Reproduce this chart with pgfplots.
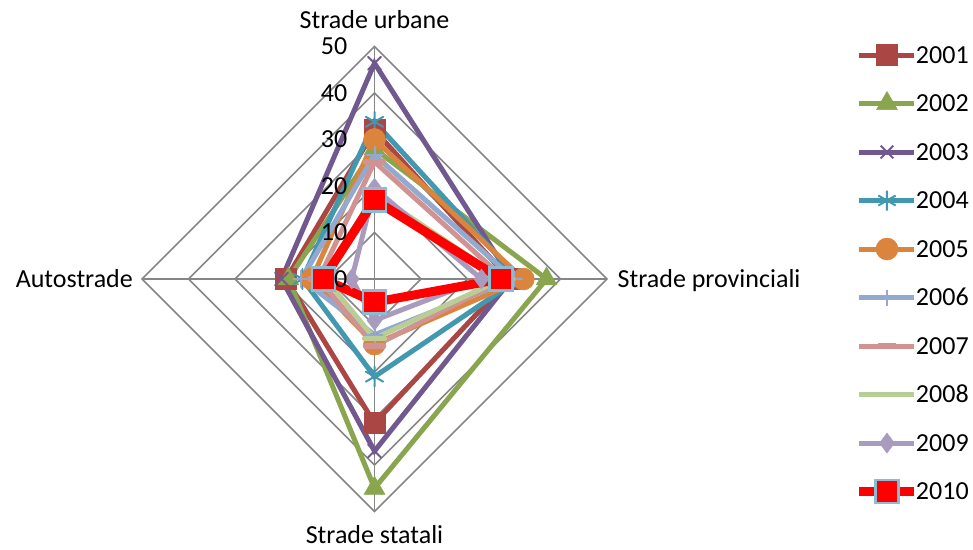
\documentclass[border=0pt]{standalone}
\usepackage{fontspec}
\setmainfont{Carlito}
\usepackage{pgfplots}
\pgfplotsset{compat=1.18}
\definecolor{gridc}{HTML}{868686}
\definecolor{c1}{HTML}{AA4643}
\definecolor{c2}{HTML}{89A54E}
\definecolor{c3}{HTML}{71588F}
\definecolor{c4}{HTML}{4198AF}
\definecolor{c5}{HTML}{DB843D}
\definecolor{c6}{HTML}{93A9CF}
\definecolor{c7}{HTML}{D19392}
\definecolor{c8}{HTML}{B9CD96}
\definecolor{c9}{HTML}{A99BBD}
\definecolor{c10}{HTML}{FF0000}
\definecolor{c10b}{HTML}{8CBCD4}
\begin{document}
\fontsize{26}{31}\selectfont
\begin{tikzpicture}
\useasboundingbox (0,0) rectangle (973pt,549pt);
\begin{axis}[
  at={(374.5pt,270pt)}, anchor=center,
  x=4.65pt, y=4.65pt,
  xmin=-50, xmax=50, ymin=-50, ymax=50,
  hide axis, clip=false,
  line cap=round,
  legend style={draw=none, fill=none, inner sep=0pt, outer sep=0pt,
    at={(axis description cs:1.5333,1.0204)}, anchor=north west,
    font=\fontsize{26}{31}\selectfont,
    nodes={inner sep=0pt, outer sep=0pt, text height=26pt, text depth=10pt},
    row sep=12.5pt, column sep=-3pt},
  legend cell align=left,
  legend image code/.code={\draw[mark repeat=2,mark phase=2,#1] plot coordinates {(0pt,0pt) (27.5pt,0pt) (55pt,0pt)};},
]
% grid
\addplot[gridc, line width=1.7pt, forget plot, line cap=butt] coordinates {(0,10) (10,0) (0,-10) (-10,0)} -- cycle;
\addplot[gridc, line width=1.7pt, forget plot, line cap=butt] coordinates {(0,20) (20,0) (0,-20) (-20,0)} -- cycle;
\addplot[gridc, line width=1.7pt, forget plot, line cap=butt] coordinates {(0,30) (30,0) (0,-30) (-30,0)} -- cycle;
\addplot[gridc, line width=1.7pt, forget plot, line cap=butt] coordinates {(0,40) (40,0) (0,-40) (-40,0)} -- cycle;
\addplot[gridc, line width=1.7pt, forget plot, line cap=butt] coordinates {(0,50) (50,0) (0,-50) (-50,0)} -- cycle;
\addplot[gridc, line width=1.7pt, forget plot, line cap=butt] coordinates {(0,50) (0,-50)};
\addplot[gridc, line width=1.7pt, forget plot, line cap=butt] coordinates {(-50,0) (50,0)};
% series: (0,U) (P,0) (0,-S) (-A,0)
\addplot[c1, line width=5pt, mark=square*, mark size=10.5pt, mark options={solid, line width=0.5pt, fill=c1}]
  coordinates {(0,32) (29,0) (0,-31) (-19,0)} -- cycle;
\addplot[c2, line width=5pt, mark=triangle*, mark size=12pt, mark options={solid, line width=0.5pt, fill=c2}]
  coordinates {(0,28) (37,0) (0,-45) (-18.5,0)} -- cycle;
\addplot[c3, line width=5pt, mark=x, mark size=9pt, mark options={solid, line width=2pt}]
  coordinates {(0,46.4) (29.5,0) (0,-37) (-20,0)} -- cycle;
\addplot[c4, line width=5pt, mark=asterisk, mark size=10pt, mark options={solid, line width=2pt}]
  coordinates {(0,33.8) (31,0) (0,-21) (-15.5,0)} -- cycle;
\addplot[c5, line width=5pt, mark=*, mark size=11pt, mark options={solid, line width=0.5pt, fill=c5}]
  coordinates {(0,30) (32,0) (0,-14) (-13.5,0)} -- cycle;
\addplot[c6, line width=5pt, mark=+, mark size=8pt, mark options={solid, line width=2pt}]
  coordinates {(0,26.7) (30,0) (0,-12) (-15.7,0)} -- cycle;
\addplot[c7, line width=5pt, mark=-, mark size=9pt, mark options={solid, line width=5.5pt}]
  coordinates {(0,25.2) (28,0) (0,-14.4) (-12,0)} -- cycle;
\addplot[c8, line width=5pt, mark=-, mark size=10pt, mark options={solid, line width=5.5pt}]
  coordinates {(0,18.5) (27.5,0) (0,-12.8) (-10.5,0)} -- cycle;
\addplot[c9, line width=5pt, mark=diamond*, mark size=10pt, mark options={solid, line width=0.5pt, fill=c9}]
  coordinates {(0,19.5) (23,0) (0,-8.9) (-4.9,0)} -- cycle;
\addplot[c10, line width=9pt, mark=square*, mark size=11.5pt, mark options={solid, line width=2.5pt, draw=c10b, fill=c10}]
  coordinates {(0,17) (27.2,0) (0,-5) (-11,0)} -- cycle;
\legend{2001,2002,2003,2004,2005,2006,2007,2008,2009,2010}
% category labels
\node[anchor=base, inner sep=0pt] at (axis cs:0,50) [yshift=18pt] {Strade urbane};
\node[anchor=base, inner sep=0pt] at (axis cs:0,-50) [yshift=-32pt] {Strade statali};
\node[anchor=base east, inner sep=0pt] at (axis cs:-50,0) [xshift=-9pt, yshift=-8.4pt] {Autostrade};
\node[anchor=base west, inner sep=0pt] at (axis cs:50,0) [xshift=10.5pt, yshift=-8.4pt] {Strade provinciali};
\coordinate (t0) at (axis cs:0,0);
\coordinate (t10) at (axis cs:0,10);
\coordinate (t20) at (axis cs:0,20);
\coordinate (t30) at (axis cs:0,30);
\coordinate (t40) at (axis cs:0,40);
\coordinate (t50) at (axis cs:0,50);
\end{axis}
% value labels, drawn on top of the series
\node[anchor=base east, inner sep=0pt] at (t0) [xshift=-27pt, yshift=-8.3pt] {0};
\node[anchor=base east, inner sep=0pt] at (t10) [xshift=-27pt, yshift=-8.3pt] {10};
\node[anchor=base east, inner sep=0pt] at (t20) [xshift=-27pt, yshift=-8.3pt] {20};
\node[anchor=base east, inner sep=0pt] at (t30) [xshift=-27pt, yshift=-8.3pt] {30};
\node[anchor=base east, inner sep=0pt] at (t40) [xshift=-27pt, yshift=-8.3pt] {40};
\node[anchor=base east, inner sep=0pt] at (t50) [xshift=-27pt, yshift=-8.3pt] {50};
\end{tikzpicture}
\end{document}
